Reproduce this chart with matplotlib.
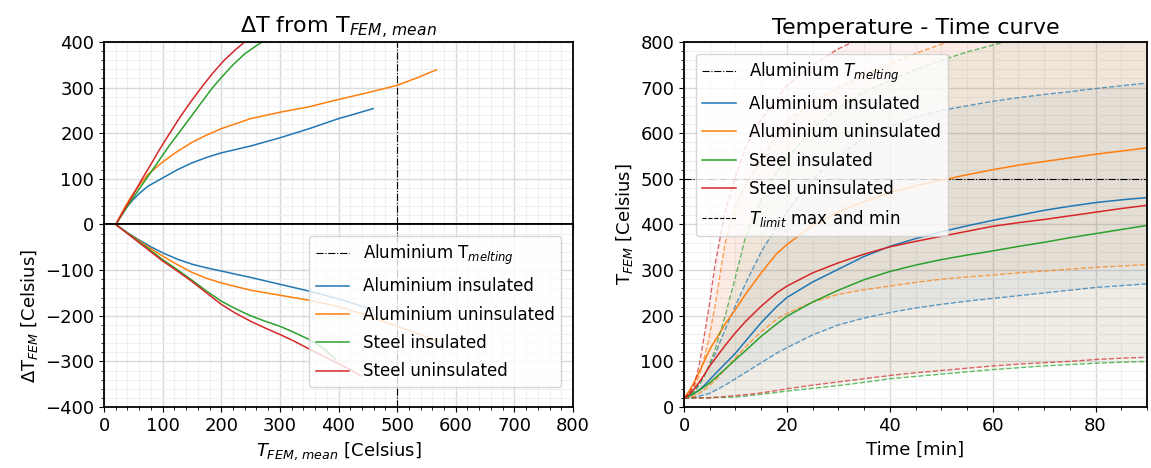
import numpy as np
import matplotlib
matplotlib.use('Agg')
import matplotlib.pyplot as plt
from matplotlib.ticker import MultipleLocator

plt.rcParams['font.size'] = 13
plt.rcParams['axes.linewidth'] = 1.3

names = ['Aluminium insulated', 'Aluminium uninsulated', 'Steel insulated', 'Steel uninsulated']
colors = ['tab:blue', 'tab:orange', 'tab:green', 'tab:red']
T_melt = 500

# ---- left: deviation from mean temperature ----
up_T = [
    [20, 30, 40, 50, 60, 75, 100, 125, 150, 175, 200, 250, 300, 350, 400, 430, 459],
    [20, 30, 40, 50, 60, 75, 100, 125, 150, 175, 200, 250, 300, 350, 400, 450, 500, 535, 567],
    [20, 30, 40, 50, 60, 72, 85, 100, 112, 125, 140, 155, 170, 184, 200, 220, 240, 260, 276, 300],
    [20, 30, 40, 50, 65, 80, 95, 112, 130, 148, 166, 185, 205, 225, 240, 260],
]
up_dT = [
    [0, 22, 40, 55, 68, 84, 102, 120, 135, 147, 157, 172, 190, 210, 232, 243, 254],
    [0, 25, 48, 68, 86, 110, 137, 160, 180, 196, 210, 232, 246, 258, 274, 289, 305, 322, 339],
    [0, 20, 40, 59, 78, 100, 124, 152, 174, 196, 222, 248, 274, 298, 322, 350, 374, 392, 405, 425],
    [0, 22, 44, 66, 100, 132, 165, 200, 236, 269, 300, 331, 360, 384, 400, 425],
]
lo_T = [
    [20, 40, 60, 80, 100, 125, 150, 175, 200, 250, 300, 350, 400, 430, 459],
    [20, 40, 60, 80, 100, 125, 150, 175, 200, 250, 300, 350, 400, 450, 500, 535, 567],
    [20, 40, 60, 80, 100, 125, 150, 175, 200, 225, 250, 275, 300, 325, 350, 375, 395],
    [20, 40, 60, 80, 100, 125, 150, 175, 200, 225, 250, 275, 300, 325, 350, 375, 400, 420, 438],
]
lo_dT = [
    [0, -18, -34, -49, -62, -76, -87, -95, -102, -116, -131, -146, -163, -175, -188],
    [0, -19, -36, -53, -69, -88, -105, -118, -128, -144, -155, -166, -180, -200, -223, -239, -255],
    [0, -19, -38, -57, -77, -99, -122, -146, -168, -185, -200, -212, -223, -237, -252, -272, -296],
    [0, -20, -40, -60, -80, -102, -125, -150, -175, -195, -212, -227, -241, -256, -273, -289, -305, -318, -332],
]

# ---- right: temperature vs time ----
t = [0, 1, 2, 3, 4, 5, 6, 8, 10, 12, 15, 18, 20, 25, 30, 35, 40, 45, 50, 55, 60, 65, 70, 75, 80, 85, 90]
T_mean = [
    [20, 24, 30, 38, 48, 60, 72, 95, 118, 145, 185, 220, 240, 274, 302, 330, 352, 369, 384, 397, 409, 420, 431, 440, 448, 454, 459],
    [20, 35, 55, 78, 102, 126, 145, 182, 214, 248, 294, 336, 356, 398, 428, 450, 470, 485, 497, 509, 520, 530, 538, 546, 554, 561, 568],
    [20, 24, 30, 37, 45, 53, 63, 83, 104, 124, 155, 182, 199, 230, 256, 279, 297, 311, 323, 333, 342, 352, 361, 371, 380, 389, 398],
    [20, 28, 40, 55, 72, 90, 105, 135, 163, 188, 221, 250, 265, 294, 316, 335, 351, 363, 374, 385, 396, 404, 411, 419, 427, 435, 442],
]
T_max = [
    [20, 25, 35, 50, 70, 92, 115, 170, 222, 272, 340, 395, 428, 500, 550, 590, 615, 635, 650, 660, 670, 678, 685, 691, 698, 704, 710],
    [20, 30, 45, 70, 110, 160, 220, 360, 440, 490, 540, 600, 625, 668, 700, 728, 752, 775, 795, 815, 835, 850, 865, 880, 890, 900, 910],
    [20, 25, 35, 50, 70, 95, 125, 200, 285, 375, 455, 515, 545, 610, 655, 690, 715, 740, 760, 778, 793, 808, 820, 830, 840, 850, 860],
    [20, 30, 50, 95, 160, 230, 310, 430, 505, 570, 630, 675, 705, 750, 785, 812, 840, 865, 890, 910, 930, 950, 965, 980, 995, 1005, 1015],
]
T_min = [
    [20, 20, 21, 24, 27, 30, 36, 48, 62, 76, 97, 118, 130, 158, 180, 195, 207, 217, 225, 232, 238, 244, 250, 256, 262, 266, 270],
    [20, 21, 24, 30, 38, 48, 58, 82, 108, 132, 165, 192, 205, 230, 247, 257, 265, 273, 280, 285, 289, 294, 298, 302, 306, 309, 312],
    [20, 20, 20, 20, 20, 20, 21, 21, 22, 24, 28, 32, 35, 41, 47, 54, 62, 67, 72, 77, 82, 86, 90, 93, 96, 98, 100],
    [20, 20, 20, 20, 20, 20, 21, 23, 25, 27, 31, 36, 40, 48, 55, 62, 69, 75, 80, 85, 90, 94, 97, 100, 104, 107, 109],
]

fig = plt.figure(figsize=(11.51, 4.68), dpi=100)
ax_up = fig.add_axes([0.0904, 0.5203, 0.4074, 0.39])
ax_lo = fig.add_axes([0.0904, 0.1303, 0.4074, 0.39], sharex=ax_up)
ax_r = fig.add_axes([0.5943, 0.1303, 0.4022, 0.78])

for ax in (ax_up, ax_lo, ax_r):
    ax.grid(which='major', color='0.85', lw=1.0)
    ax.grid(which='minor', color='0.94', lw=0.8)
    ax.set_axisbelow(True)

for ax in (ax_up, ax_lo):
    ax.axvline(T_melt, color='k', ls='-.', lw=0.8, label='Aluminium T$_{melting}$')
    ax.xaxis.set_major_locator(MultipleLocator(100))
    ax.xaxis.set_minor_locator(MultipleLocator(20))
    ax.yaxis.set_major_locator(MultipleLocator(100))
    ax.yaxis.set_minor_locator(MultipleLocator(20))

for i in range(4):
    ax_up.plot(up_T[i], up_dT[i], color=colors[i], lw=1.1)
    ax_lo.plot(lo_T[i], lo_dT[i], color=colors[i], lw=1.1, label=names[i])

ax_up.set_xlim(0, 800)
ax_up.set_ylim(0, 400)
ax_lo.set_ylim(-400, 0)
ax_lo.set_yticks([-400, -300, -200, -100])
plt.setp(ax_up.get_xticklabels(), visible=False)
ax_up.set_title('$\\Delta$T from T$_{FEM,\\,mean}$', fontsize=16)
ax_lo.set_ylabel('$\\Delta$T$_{FEM}$ [Celsius]')
ax_lo.set_xlabel('$T_{FEM,\\,mean}$ [Celsius]')
ax_lo.legend(loc='upper right', fontsize=12, labelspacing=0.62, borderaxespad=0.7)

# right panel
ax_r.axhline(T_melt, color='k', ls='-.', lw=0.8, label='Aluminium $T_{melting}$')
for i in range(4):
    ax_r.plot(t, T_mean[i], color=colors[i], lw=1.1, label=names[i])
    ax_r.plot(t, T_max[i], color=colors[i], ls='--', lw=1.0, alpha=0.7)
    ax_r.plot(t, T_min[i], color=colors[i], ls='--', lw=1.0, alpha=0.7)
    ax_r.fill_between(t, T_min[i], T_max[i], color=colors[i], alpha=0.06, lw=0)
ax_r.plot([], [], color='k', ls='--', lw=0.8, label='$T_{limit}$ max and min')
ax_r.set_xlim(0, 90)
ax_r.set_ylim(0, 800)
ax_r.xaxis.set_major_locator(MultipleLocator(20))
ax_r.xaxis.set_minor_locator(MultipleLocator(5))
ax_r.yaxis.set_major_locator(MultipleLocator(100))
ax_r.yaxis.set_minor_locator(MultipleLocator(20))
ax_r.set_title('Temperature - Time curve', fontsize=16)
ax_r.set_xlabel('Time [min]')
ax_r.set_ylabel('T$_{FEM}$ [Celsius]')
ax_r.legend(loc='upper left', fontsize=12, labelspacing=0.62, borderaxespad=0.7)

fig.savefig('out.png', dpi=100)
